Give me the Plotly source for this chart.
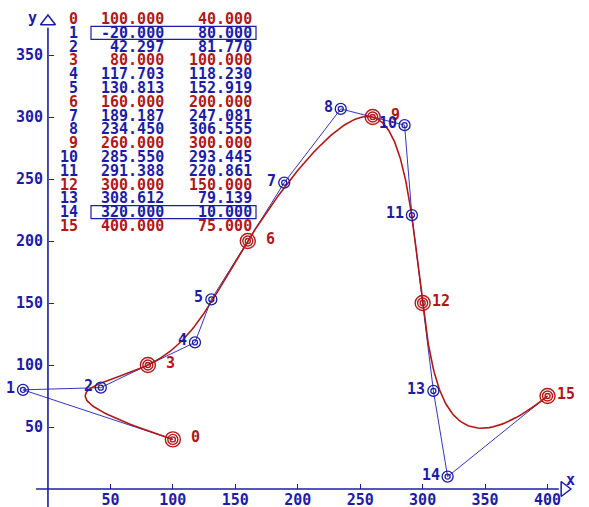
import numpy as np
import plotly.graph_objects as go

# Control points of a piecewise cubic Bezier curve (knots at 0, 3, 6, 9, 12, 15)
point_ids = list(range(16))
xs = [100.000, -20.000, 42.297, 80.000, 117.703, 130.813, 160.000, 189.187,
      234.450, 260.000, 285.550, 291.388, 300.000, 308.612, 320.000, 400.000]
ys = [40.000, 80.000, 81.770, 100.000, 118.230, 152.919, 200.000, 247.081,
      306.555, 300.000, 293.445, 220.861, 150.000, 79.139, 10.000, 75.000]
boxed_rows = [1, 14]
x_ticks = [50, 100, 150, 200, 250, 300, 350, 400]
y_ticks = [50, 100, 150, 200, 250, 300, 350]

RED = "#b01818"
BLUE = "#1c1ca6"
LINE_BLUE = "#3434c4"
FONT = "DejaVu Sans Mono"
W, H = 589, 507
X_RANGE = [-38.4, 433.2]
Y_RANGE = [-14.5, 394.4]

knots = [i for i in point_ids if i % 3 == 0]
ctrl = [i for i in point_ids if i % 3 != 0]

# Evaluate each cubic segment
t = np.linspace(0, 1, 80)
cx, cy = [], []
for s in range(0, len(xs) - 1, 3):
    P = np.array([[xs[s + k], ys[s + k]] for k in range(4)])
    b = np.array([(1 - t) ** 3, 3 * t * (1 - t) ** 2, 3 * t ** 2 * (1 - t), t ** 3])
    seg = b.T @ P
    cx.extend(seg[:, 0]); cy.extend(seg[:, 1])

fig = go.Figure()

# Axis lines with open arrowheads
fig.add_shape(type="line", x0=-9.6, x1=409, y0=0, y1=0,
              line=dict(color=BLUE, width=1.6))
fig.add_shape(type="line", x0=0, x1=0, y0=-14.5, y1=372,
              line=dict(color=BLUE, width=1.6))
fig.add_trace(go.Scatter(x=[413.5], y=[0], mode="markers", hoverinfo="skip",
                         marker=dict(symbol="triangle-right-open", size=13,
                                     color=BLUE, line=dict(width=1.5))))
fig.add_trace(go.Scatter(x=[0], y=[377], mode="markers", hoverinfo="skip",
                         marker=dict(symbol="triangle-up-open", size=13,
                                     color=BLUE, line=dict(width=1.5))))

# Control polygon
fig.add_trace(go.Scatter(x=xs, y=ys, mode="lines", hoverinfo="skip",
                         line=dict(color=LINE_BLUE, width=1)))
# Bezier curve
fig.add_trace(go.Scatter(x=cx, y=cy, mode="lines", hoverinfo="skip",
                         line=dict(color=RED, width=1.6)))

# Concentric ring markers
for size in (15, 10, 5):
    fig.add_trace(go.Scatter(x=[xs[i] for i in knots], y=[ys[i] for i in knots],
                             mode="markers", hoverinfo="skip",
                             marker=dict(symbol="circle-open", size=size, color=RED,
                                         line=dict(width=1.4))))
for size in (11, 5):
    fig.add_trace(go.Scatter(x=[xs[i] for i in ctrl], y=[ys[i] for i in ctrl],
                             mode="markers", hoverinfo="skip",
                             marker=dict(symbol="circle-open", size=size, color=BLUE,
                                         line=dict(width=1.3))))

# Point numbers
for i in point_ids:
    is_knot = i in knots
    fig.add_annotation(x=xs[i], y=ys[i], text=str(i), showarrow=False,
                       xanchor="right", yanchor="middle",
                       xshift=29 if is_knot else -6, yshift=2,
                       font=dict(family=FONT, size=15, weight="bold",
                                 color=RED if is_knot else BLUE))

# Coordinate table
row0, row_h = 19, 13.8
for i in point_ids:
    col = RED if i in knots else BLUE
    yy = 1 - (row0 + row_h * i) / H
    for text, right in ((str(i), 80), (f"{xs[i]:.3f}", 166), (f"{ys[i]:.3f}", 254)):
        fig.add_annotation(xref="paper", yref="paper", x=right / W, y=yy, text=text,
                           showarrow=False, xanchor="right", yanchor="middle",
                           font=dict(family=FONT, size=15, weight="bold", color=col))
for i in boxed_rows:
    yc = row0 + row_h * i
    fig.add_shape(type="rect", xref="paper", yref="paper",
                  x0=91 / W, x1=256 / W, y0=1 - (yc - 6.5) / H, y1=1 - (yc + 6.5) / H,
                  line=dict(color=BLUE, width=1.2))

# Axis titles
fig.add_annotation(x=418.5, y=7, text="x", showarrow=False,
                   font=dict(family=FONT, size=15, weight="bold", color=BLUE))
fig.add_annotation(x=-12, y=380, text="y", showarrow=False,
                   font=dict(family=FONT, size=15, weight="bold", color=BLUE))

axis_font = dict(family=FONT, size=15, weight="bold", color=BLUE)
fig.update_layout(
    width=W, height=H, margin=dict(l=0, r=0, t=0, b=0, autoexpand=False),
    paper_bgcolor="white", plot_bgcolor="white", showlegend=False,
    xaxis=dict(range=X_RANGE, domain=[0, 1], anchor="free", automargin=False,
               position=1 - 489 / H, tickvals=x_ticks, ticks="inside",
               ticklen=5, tickwidth=1.4, tickcolor=BLUE, tickfont=axis_font,
               ticklabelstandoff=0, showgrid=False, zeroline=False, showline=False),
    yaxis=dict(range=Y_RANGE, domain=[0, 1], anchor="free", automargin=False,
               position=48 / W, tickvals=y_ticks, ticks="inside",
               ticklen=5, tickwidth=1.4, tickcolor=BLUE, tickfont=axis_font,
               ticklabelstandoff=5, showgrid=False, zeroline=False, showline=False),
)

fig.write_html("out.html")
